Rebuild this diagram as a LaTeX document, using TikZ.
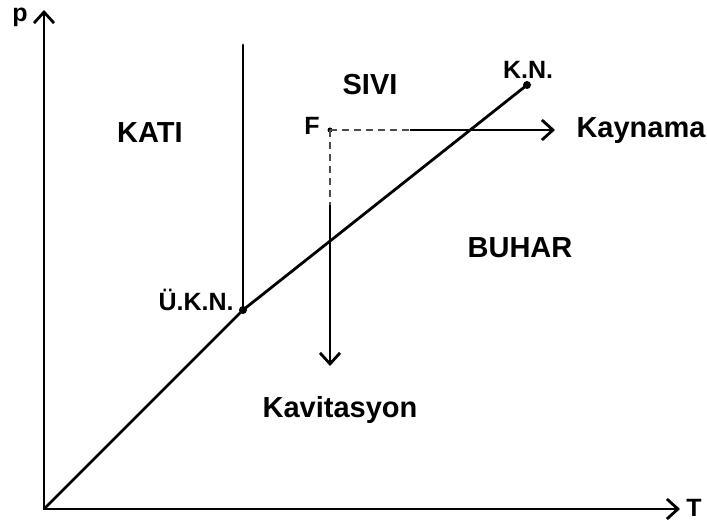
\documentclass[tikz,border=0pt]{standalone}
\usepackage{fontspec}
\setmainfont{Liberation Sans}
\usetikzlibrary{arrows.meta, positioning, calc}

\begin{document}
\begin{tikzpicture}[
  x=1pt, y=-1pt,
  font=\bfseries,
  axis/.style   ={-{Straight Barb[length=11pt,width=20pt,line width=2.8pt]}, line width=2.8pt},
  curve/.style  ={line width=2.8pt, line cap=round},
  path/.style   ={-{Straight Barb[length=11pt,width=20pt,line width=2.8pt]}, line width=2.8pt},
  guide/.style  ={dashed, dash pattern=on 7pt off 5pt, draw=black!70, line width=1.4pt},
  dot/.style    ={circle, fill=black, inner sep=0pt, minimum size=8pt},
  big/.style    ={font=\fontsize{29}{34}\selectfont\bfseries},
  small/.style  ={font=\fontsize{25}{29}\selectfont\bfseries},
]
\useasboundingbox (0,0) rectangle (707,529);

% ----- Points -----
\coordinate (O) at (44,509);
\coordinate (pTop) at (44,10);
\coordinate (TEnd) at (680,509);
\node[dot] (UKN) at (243,310) {};
\node[dot] (KN) at (527,85) {};
\node[dot, minimum size=5pt] (F) at (330,130) {};
\coordinate (meltTop) at (243,45);
\coordinate (boilStart) at (410,130);
\coordinate (boilEnd) at (555,130);
\coordinate (cavStart) at (330,205);
\coordinate (cavEnd) at (330,366);

% ----- Axes -----
\draw[axis] (O) -- (pTop);
\draw[axis] (O) -- (TEnd);
\node[small] (pLab) at (20,17) {p};
\node[small] (TLab) at (694,508) {T};

% ----- Phase boundaries -----
\draw[curve] (O) -- (UKN.center);
\draw[curve] (UKN.center) -- (KN.center);
\draw[curve] (UKN.center) -- (meltTop);

% ----- Paths from F -----
\draw[guide] (F.center) -- (boilStart);
\draw[path] (boilStart) -- (boilEnd);
\draw[guide] (F.center) -- (cavStart);
\draw[path] (cavStart) -- (cavEnd);

% ----- Labels -----
\node[big] (KATI) at (150,133) {KATI};
\node[big] (SIVI) at (370,85) {SIVI};
\node[big] (BUHAR) at (520,248) {BUHAR};
\node[big] (Kaynama) at (641,131) {Kaynama};
\node[big] (Kavitasyon) at (340,410) {Kavitasyon};
\node[small] (FLab) at (312,126) {F};
\node[small] (KNLab) at (528,70) {K.N.};
\node[small] (UKNLab) at (196,300) {Ü.K.N.};

\end{tikzpicture}
\end{document}
